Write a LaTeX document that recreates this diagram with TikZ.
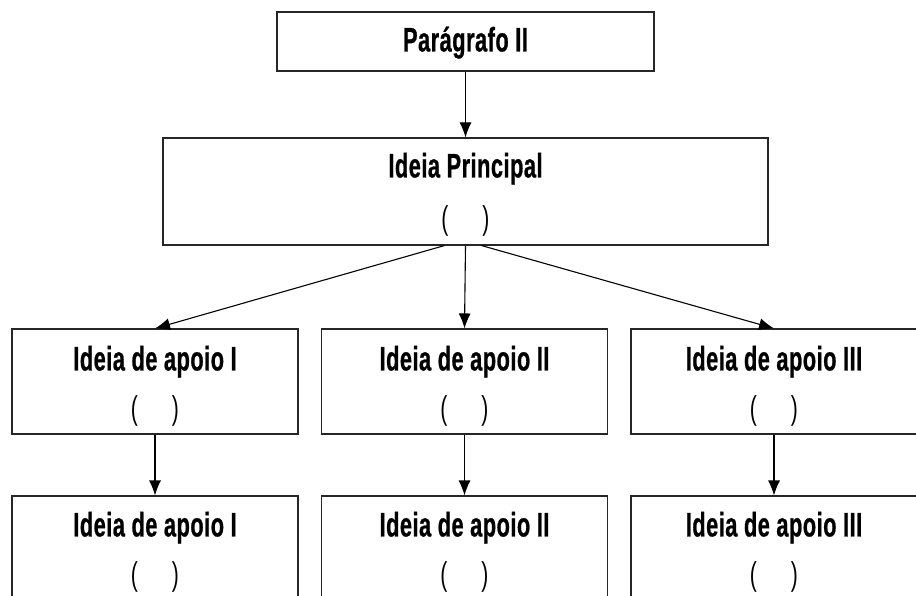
\documentclass[tikz,border=0pt]{standalone}
\usepackage{fontspec}
\usetikzlibrary{arrows.meta,positioning}
\newfontfamily\rotulo[FakeStretch=0.64,BoldFeatures={FakeBold=0.7,LetterSpace=1.5}]{Liberation Sans}

\begin{document}
\begin{tikzpicture}[x=1pt,y=-1pt,
  caixa/.style={draw=black!85,line width=1.1pt,minimum width=286pt,minimum height=105pt,inner sep=0pt},
  titulo/.style={font=\rotulo\bfseries\fontsize{34}{40}\selectfont,anchor=base,inner sep=0pt},
  parenteses/.style={font=\rotulo\fontsize{33}{40}\selectfont,inner sep=0pt},
  seta/.style={line width=1.1pt,-{Latex[length=15pt,width=12pt]}}]
\useasboundingbox (0,0) rectangle (916,596);
\clip (0,0) rectangle (916,596);
% paragrafo e ideia principal
\node[caixa,minimum width=377pt,minimum height=59pt] (par) at (465.5,41.5) {};
\node[titulo] (partit) at ([yshift=-40pt]par.north) {Parágrafo II};
\node[caixa,minimum width=605pt,minimum height=107pt] (princ) at (465.5,191.5) {};
\node[titulo] (princtit) at ([yshift=-40pt]princ.north) {Ideia Principal};
\node[parenteses] (princpar) at ([yshift=-84pt]princ.north) {(\hspace{34pt})};
\draw[seta] (par) -- (princ);
% ideias de apoio, duas linhas
\foreach \i/\x/\rom in {1/155/I,2/464.5/II,3/774/III}{
  \node[caixa] (ap\i) at (\x,381.5) {};
  \node[titulo] (ap\i tit) at ([yshift=-42pt]ap\i.north) {Ideia de apoio \rom};
  \node[parenteses] (ap\i par) at ([yshift=-83pt]ap\i.north) {(\hspace{34pt})};
  \node[caixa] (sub\i) at (\x,548.5) {};
  \node[titulo] (sub\i tit) at ([yshift=-41pt]sub\i.north) {Ideia de apoio \rom};
  \node[parenteses] (sub\i par) at ([yshift=-82pt]sub\i.north) {(\hspace{34pt})};
  \draw[seta] (ap\i) -- (sub\i);
}
\draw[seta] ([xshift=-21pt]princ.south) -- (ap1.north);
\draw[seta] (princ.south) -- (ap2.north);
\draw[seta] ([xshift=16pt]princ.south) -- (ap3.north);
\end{tikzpicture}
\end{document}
